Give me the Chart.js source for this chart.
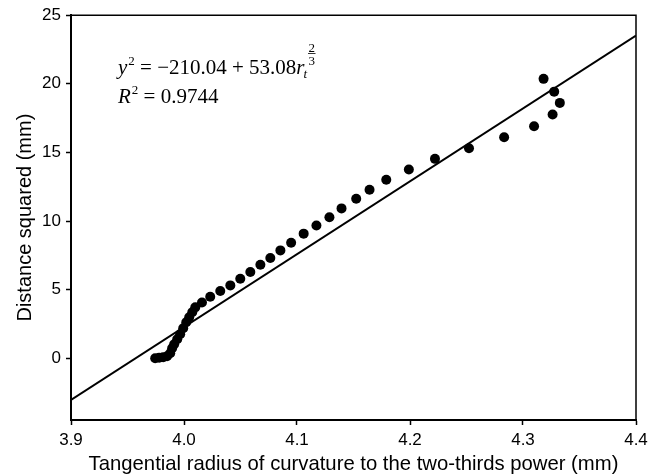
<!DOCTYPE html>
<html>
<head>
<meta charset="utf-8">
<script src="https://cdn.jsdelivr.net/npm/chart.js@4.4.1/dist/chart.umd.min.js"></script>
<style>
  html, body { margin: 0; padding: 0; background: #fff; }
  #wrap { width: 659px; height: 475px; position: relative; }
</style>
</head>
<body>
<div id="wrap"><canvas id="c" width="659" height="475"></canvas></div>
<script>
// ---- data ----
const pointX = [3.9745, 3.978, 3.9816, 3.985, 3.9878, 3.9895, 3.9913, 3.994, 3.9966, 3.9993, 4.002, 4.0046, 4.0073, 4.010,
  4.0159, 4.0232, 4.0321, 4.041, 4.0498, 4.0587, 4.0676, 4.0764, 4.0853, 4.0948, 4.1059, 4.1172, 4.1287, 4.1394,
  4.1524, 4.1642, 4.1790, 4.1990, 4.2221, 4.2522, 4.2833, 4.3098, 4.3182, 4.3276, 4.3326, 4.3262];
const pointY = [0.0, 0.04, 0.07, 0.15, 0.36, 0.73, 1.02, 1.38, 1.75, 2.18, 2.62, 2.98, 3.35, 3.71,
  4.06, 4.48, 4.90, 5.31, 5.80, 6.28, 6.82, 7.30, 7.86, 8.42, 9.08, 9.68, 10.28, 10.92,
  11.62, 12.28, 13.01, 13.76, 14.53, 15.31, 16.11, 16.91, 20.36, 19.43, 18.61, 17.76];
const fitLineX = [3.9, 4.4];
const fitLineY = [-3.03, 23.51];
const xTickValues = [3.9, 4.0, 4.1, 4.2, 4.3, 4.4];
const yTickValues = [0, 5, 10, 15, 20, 25];
const xAxisTitle = 'Tangential radius of curvature to the two-thirds power (mm)';
const yAxisTitle = 'Distance squared (mm)';
const eqIntercept = '\u2212210.04';
const eqSlope = '53.08';
const eqR2 = '0.9744';

const SANS = '"Liberation Sans", Arial, sans-serif';
const SERIF = '"Liberation Serif", "Times New Roman", serif';

const framePlugin = {
  id: 'frame',
  afterDraw(chart) {
    const { ctx, chartArea: a } = chart;
    ctx.save();
    ctx.strokeStyle = '#000';
    ctx.lineWidth = 1.5;
    ctx.beginPath();
    ctx.moveTo(a.left, a.top);
    ctx.lineTo(a.right, a.top);
    ctx.lineTo(a.right, a.bottom);
    ctx.stroke();
    ctx.restore();
  }
};

const equationPlugin = {
  id: 'equation',
  afterDraw(chart) {
    const ctx = chart.ctx;
    const fs = 21;
    const roman = fs + 'px ' + SERIF;
    const ital = 'italic ' + fs + 'px ' + SERIF;
    const small = Math.round(fs * 0.6) + 'px ' + SERIF;
    const smallItal = 'italic ' + Math.round(fs * 0.6) + 'px ' + SERIF;
    ctx.save();
    ctx.fillStyle = '#000';
    ctx.strokeStyle = '#000';
    ctx.textBaseline = 'alphabetic';
    ctx.textAlign = 'left';
    const put = (t, font, x, y) => { ctx.font = font; ctx.fillText(t, x, y); return x + ctx.measureText(t).width; };
    // line 1
    let x = 118, y = 74;
    x = put('y', ital, x, y);
    x = put('2', small, x + 1, y - 9);
    x = put(' = ' + eqIntercept + ' + ' + eqSlope, roman, x, y);
    x = put('r', ital, x, y);
    const xr = x;
    put('t', smallItal, xr - 1, y + 4);
    // fraction exponent 2/3
    ctx.font = small;
    const fw = ctx.measureText('2').width;
    const fx = xr + 4;
    ctx.fillText('2', fx, y - 22);
    ctx.fillText('3', fx, y - 9);
    ctx.lineWidth = 0.8;
    ctx.beginPath();
    ctx.moveTo(fx - 0.5, y - 20.5);
    ctx.lineTo(fx + fw + 0.5, y - 20.5);
    ctx.stroke();
    // line 2
    x = 118; y = 103;
    x = put('R', ital, x, y);
    x = put('2', small, x + 1, y - 9);
    put(' = ' + eqR2, roman, x, y);
    ctx.restore();
  }
};

const scatterData = pointX.map((v, i) => ({ x: v, y: pointY[i] }));
const lineData = fitLineX.map((v, i) => ({ x: v, y: fitLineY[i] }));

new Chart(document.getElementById('c'), {
  type: 'scatter',
  data: {
    datasets: [
      {
        type: 'line',
        data: lineData,
        borderColor: '#000',
        borderWidth: 2,
        pointRadius: 0,
        fill: false,
        tension: 0,
        order: 2
      },
      {
        data: scatterData,
        backgroundColor: '#000',
        borderColor: '#000',
        borderWidth: 0,
        pointRadius: 5,
        pointHoverRadius: 5,
        order: 1
      }
    ]
  },
  options: {
    responsive: false,
    animation: false,
    events: [],
    layout: { padding: { top: 13, right: 23, bottom: 0, left: 0 } },
    plugins: { legend: { display: false }, tooltip: { enabled: false } },
    scales: {
      x: {
        type: 'linear',
        min: 3.9, max: 4.4,
        afterBuildTicks: s => { s.ticks = xTickValues.map(v => ({ value: v })); },
        afterFit: s => { s.height = 55; },
        ticks: {
          color: '#000',
          font: { family: SANS, size: 17 },
          padding: 5,
          callback: v => Number(v).toFixed(1),
          maxRotation: 0
        },
        grid: { display: true, drawOnChartArea: false, drawTicks: true, tickLength: 5, tickColor: '#000', tickWidth: 1.5 },
        border: { display: true, color: '#000', width: 2 },
        title: { display: true, text: xAxisTitle, color: '#000', font: { family: SANS, size: 20.3, lineHeight: 1.0 }, padding: { top: 0, bottom: 0 } }
      },
      y: {
        type: 'linear',
        min: -4.5, max: 25,
        afterBuildTicks: s => { s.ticks = yTickValues.map(v => ({ value: v })); },
        afterFit: s => { s.width = 71; },
        ticks: {
          color: '#000',
          font: { family: SANS, size: 17 },
          padding: 5,
          callback: v => String(v)
        },
        grid: { display: true, drawOnChartArea: false, drawTicks: true, tickLength: 5, tickColor: '#000', tickWidth: 1.5 },
        border: { display: true, color: '#000', width: 2 },
        title: { display: true, text: yAxisTitle, color: '#000', font: { family: SANS, size: 20, lineHeight: 1.0 }, padding: { top: 15, bottom: 0 } }
      }
    }
  },
  plugins: [framePlugin, equationPlugin]
});
</script>
</body>
</html>
